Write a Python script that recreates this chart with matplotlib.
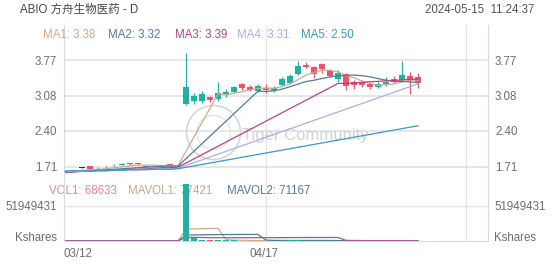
import matplotlib
matplotlib.use("Agg")
import matplotlib.pyplot as plt
import matplotlib.transforms as mtransforms
from matplotlib.patches import Ellipse
import numpy as np
import pandas as pd

plt.rcParams["font.family"] = ["Liberation Sans", "Noto Sans CJK SC", "DejaVu Sans"]

TITLE = "ABIO 方舟生物医药 - D"
STAMP = "2024-05-15  11:24:37"

# daily candles, index 0 = 03/12
opens = [1.60, 1.63, 1.69, 1.72, 1.68, 1.70, 1.74, 1.75, 1.78, 1.78, 1.71, 1.71, 1.72, 1.76, 1.74,
         2.914, 2.978, 2.978, 3.05, 3.011, 3.113, 3.146, 3.301, 3.254, 3.177, 3.229, 3.171, 3.287, 3.332, 3.50,
         3.664, 3.629, 3.687, 3.563, 3.397, 3.494, 3.345, 3.332, 3.301, 3.254, 3.301, 3.403, 3.384, 3.461, 3.448]
highs = [1.64, 1.65, 1.70, 1.72, 1.70, 1.72, 1.77, 1.79, 1.78, 1.78, 1.73, 1.73, 1.74, 1.77, 1.75,
         3.899, 3.139, 3.171, 3.075, 3.339, 3.204, 3.274, 3.332, 3.287, 3.307, 3.307, 3.268, 3.436, 3.50, 3.756,
         3.726, 3.654, 3.706, 3.59, 3.577, 3.513, 3.384, 3.384, 3.326, 3.351, 3.436, 3.461, 3.756, 3.544, 3.513]
lows = [1.59, 1.62, 1.68, 1.65, 1.67, 1.69, 1.73, 1.74, 1.75, 1.75, 1.70, 1.70, 1.71, 1.73, 1.71,
        2.90, 2.92, 2.945, 2.965, 2.978, 3.061, 3.127, 3.191, 3.171, 3.152, 3.133, 3.152, 3.268, 3.307, 3.48,
        3.61, 3.417, 3.525, 3.436, 3.351, 3.191, 3.204, 3.254, 3.204, 3.224, 3.268, 3.32, 3.37, 3.113, 3.224]
closes = [1.63, 1.64, 1.69, 1.66, 1.69, 1.71, 1.75, 1.76, 1.76, 1.76, 1.73, 1.73, 1.73, 1.74, 1.72,
          3.254, 3.081, 3.108, 2.998, 3.139, 3.158, 3.254, 3.235, 3.191, 3.268, 3.20, 3.229, 3.397, 3.467, 3.654,
          3.644, 3.50, 3.59, 3.461, 3.513, 3.274, 3.287, 3.287, 3.243, 3.307, 3.351, 3.351, 3.48, 3.397, 3.332]
volumes = [210000, 150000, 120000, 180000, 130000, 140000, 160000, 150000, 170000, 140000,
           130000, 150000, 160000, 200000, 180000, 84000000, 4500000, 2000000, 1200000, 1800000,
           900000, 800000, 600000, 500000, 500000, 450000, 400000, 600000, 900000, 1500000,
           700000, 500000, 600000, 400000, 350000, 70000, 65000, 60000, 58000, 71565,
           80000, 72000, 95000, 71472, 68633]

# moving averages as shown (gaps after the 04/03 jump)
ma1 = [1.61, 1.62, 1.64, 1.65, 1.66, 1.67, 1.69, 1.71, 1.73, 1.74, 1.74, 1.74, 1.73, 1.73, 1.73] + [None] * 4 + \
      [3.116, 3.097, 3.131, 3.157, 3.195, 3.221, 3.230, 3.225, 3.257, 3.312, 3.389, 3.478, 3.532, 3.571,
       3.570, 3.542, 3.468, 3.425, 3.364, 3.321, 3.280, 3.295, 3.308, 3.346, 3.377, 3.382]
ma2 = [1.60, 1.61, 1.62, 1.63, 1.64, 1.65, 1.66, 1.67, 1.68, 1.69, 1.70, 1.71, 1.72, 1.72, 1.72] + [None] * 9 + \
      [3.169, 3.163, 3.178, 3.207, 3.254, 3.305, 3.354, 3.379, 3.414, 3.441, 3.466, 3.473, 3.479, 3.468,
       3.445, 3.411, 3.381, 3.366, 3.355, 3.349, 3.331]
ma3 = [1.61, 1.61, 1.62, 1.62, 1.63, 1.63, 1.64, 1.65, 1.66, 1.66, 1.67, 1.68, 1.69, 1.69, 1.70] + [None] * 19 + \
      [3.317, 3.318, 3.328, 3.337, 3.350, 3.358, 3.368, 3.372, 3.385, 3.395, 3.398]
ma4 = [1.62, 1.62, 1.62, 1.63, 1.63, 1.63, 1.64, 1.64, 1.65, 1.65, 1.66, 1.66, 1.67, 1.67, 1.68] + [None] * 29 + [3.31]
ma5 = [1.63, 1.63, 1.63, 1.63, 1.64, 1.64, 1.64, 1.64, 1.65, 1.65, 1.65, 1.66, 1.66, 1.66, 1.67] + [None] * 29 + [2.50]

ma_names = ["MA1: 3.38", "MA2: 3.32", "MA3: 3.39", "MA4: 3.31", "MA5: 2.50"]
ma_colors = ["#d3a98a", "#4f7d98", "#b8437c", "#a9aee8", "#3b98cb"]
vol_names = ["VOL1: 68633", "MAVOL1: 77421", "MAVOL2: 71167"]
vol_colors = ["#ea858d", "#c9a48a", "#4f7d98"]
vol_windows = [5, 10, 20]
vol_ma_colors = ["#d3a98a", "#4f7d98", "#a05a8c"]

price_ticks = [1.71, 2.40, 3.08, 3.77]
vol_tick = 51949431
date_labels = ["03/12", "04/17"]
date_idx = [0, 25]

UP = "#1db2a1"
DOWN = "#f0506e"
GRID = "#e4e4e4"
FRAME = "#dadada"
LABEL = "#6e6e6e"

W, H = 552, 265


def px_box(left, top, right, bottom):
    return [left / W, 1 - bottom / H, (right - left) / W, (bottom - top) / H]


fig = plt.figure(figsize=(W / 100, H / 100), dpi=100)
ax = fig.add_axes(px_box(64, 25, 488, 183))
axv = fig.add_axes(px_box(64, 183, 488, 241), sharex=ax)

x = np.arange(len(closes))
o, h, l, c = map(np.array, (opens, highs, lows, closes))
colors = np.where(c > o, UP, np.where(c < o, DOWN, "#333333"))

# candles
ax.vlines(x, l, h, colors=colors, lw=0.9, zorder=3)
body = np.maximum(np.abs(c - o), 0.012)
ax.bar(x, body, bottom=np.minimum(o, c), width=0.66, color=colors, zorder=3, linewidth=0)

for vals, col in zip([ma1, ma2, ma3, ma4, ma5], ma_colors):
    arr = np.array(vals, dtype=float)
    m = ~np.isnan(arr)
    ax.plot(x[m], arr[m], color=col, lw=0.9, zorder=4)

ax.set_xlim(-0.25, 52.75)
ax.set_ylim(1.395, 4.446)
ax.set_yticks(price_ticks)
ax.set_yticklabels([f"{t:.2f}" for t in price_ticks])
ax.set_xticks([25, 50])
ax.grid(axis="y", color=GRID, lw=1.3)
ax.grid(axis="x", color=GRID, lw=0.8)
ax.set_axisbelow(True)
ax.tick_params(axis="y", length=0, labelsize=8.3, labelcolor=LABEL, labelleft=True, labelright=True, pad=5)
ax.tick_params(axis="x", length=0, labelbottom=False)
for s in ["top", "bottom"]:
    ax.spines[s].set_visible(False)
for s in ["left", "right"]:
    ax.spines[s].set_color(FRAME)
    ax.spines[s].set_linewidth(0.8)

# watermark
ax.add_patch(Ellipse((0.3526, 0.3196), 54 / 424, 54 / 158, transform=ax.transAxes,
                     fill=False, ec="#d6d6d6", lw=1.2, zorder=1))
ax.add_patch(Ellipse((0.3526, 0.3196), 34 / 424, 34 / 158, transform=ax.transAxes,
                     fill=False, ec="#e2e2e2", lw=0.9, zorder=1))
ax.text(0.4198, 0.2975, "Tiger Community", transform=ax.transAxes, fontsize=12,
        color="#d2d2d2", va="center", ha="left", zorder=1)

# volume
v = np.array(volumes, dtype=float)
vcolors = np.where(c >= o, UP, DOWN)
axv.bar(x, v, width=0.66, color=vcolors, linewidth=0, zorder=5)
vs = pd.Series(v)
for win, col in zip(vol_windows, vol_ma_colors):
    axv.plot(x, vs.rolling(win, min_periods=1).mean(), color=col, lw=0.9, zorder=4)

axv.set_ylim(0, vol_tick * (241 - 183) / (241 - 205.7))
axv.set_yticks([vol_tick])
axv.set_yticklabels([str(vol_tick)])
axv.grid(axis="y", color=GRID, lw=1.0)
axv.grid(axis="x", color=GRID, lw=0.8)
axv.set_axisbelow(True)
axv.tick_params(axis="y", length=0, labelsize=8.3, labelcolor=LABEL, labelleft=True, labelright=True, pad=5)
axv.tick_params(axis="x", length=0, labelbottom=False)
axv.spines["top"].set_visible(False)
for s in ["left", "right", "bottom"]:
    axv.spines[s].set_color(FRAME)
    axv.spines[s].set_linewidth(0.8)

blend = mtransforms.blended_transform_factory(axv.transAxes, axv.transData)
axv.text(-0.0165, 0, "Kshares", transform=blend, ha="right", va="baseline", fontsize=8.3, color=LABEL)
axv.text(1.0142, 0, "Kshares", transform=blend, ha="left", va="baseline", fontsize=8.3, color=LABEL)

# dates
dblend = mtransforms.blended_transform_factory(axv.transData, axv.transAxes)
for i, (lab, idx) in enumerate(zip(date_labels, date_idx)):
    if i == 0:
        axv.text(0, -0.22, lab, transform=axv.transAxes, ha="left", va="center", fontsize=8.3, color=LABEL)
    else:
        axv.text(idx - 0.2, -0.22, lab, transform=dblend, ha="center", va="center", fontsize=8.3, color=LABEL)

# header texts
fig.text(20 / W, 1 - 10 / H, TITLE, ha="left", va="center", fontsize=8.3, color="#444444")
fig.text(534 / W, 1 - 10 / H, STAMP, ha="right", va="center", fontsize=8.3, color="#555555")

ma_x = [43, 108, 175, 237, 301]
for name, col, px in zip(ma_names, ma_colors, ma_x):
    fig.text(px / W, 1 - 34.5 / H, name, ha="left", va="center", fontsize=8.3, color=col)

vol_x = [49, 128, 227]
for name, col, px in zip(vol_names, vol_colors, vol_x):
    axv.text(px / W, 1 - 191.5 / H, name, transform=fig.transFigure, ha="left", va="center",
             fontsize=8.3, color=col, zorder=2)

fig.savefig("out.png", dpi=100)
